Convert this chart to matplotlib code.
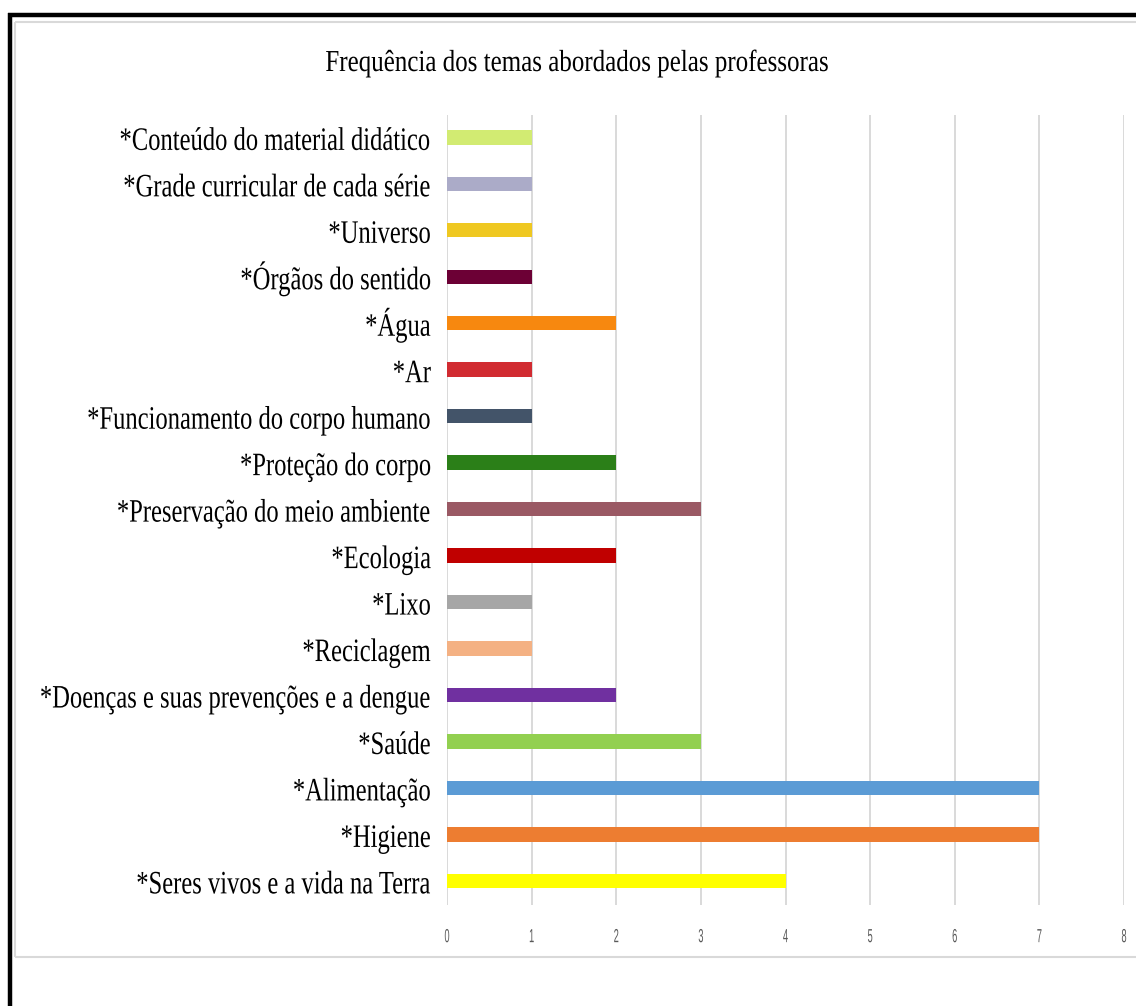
import matplotlib.pyplot as plt
from matplotlib.lines import Line2D
from matplotlib.patheffects import AbstractPathEffect
from matplotlib.transforms import Affine2D, blended_transform_factory

# temas, de cima para baixo
temas = [
    '*Conteúdo do material didático',
    '*Grade curricular de cada série',
    '*Universo',
    '*Órgãos do sentido',
    '*Água',
    '*Ar',
    '*Funcionamento do corpo humano',
    '*Proteção do corpo',
    '*Preservação do meio ambiente',
    '*Ecologia',
    '*Lixo',
    '*Reciclagem',
    '*Doenças e suas prevenções e a dengue',
    '*Saúde',
    '*Alimentação',
    '*Higiene',
    '*Seres vivos e a vida na Terra',
]
frequencia = [1, 1, 1, 1, 2, 1, 1, 2, 3, 2, 1, 1, 2, 3, 7, 7, 4]
cores = [
    '#D2EB72', '#ABABC8', '#EFC821', '#6C0035', '#F7880F', '#D12B31',
    '#435469', '#2B7F18', '#9A5964', '#C00000', '#A6A6A6', '#F4B183',
    '#7030A0', '#92D050', '#5B9BD5', '#ED7D31', '#FFFF00',
]
ticks_x = list(range(0, 9))


class Escalar(AbstractPathEffect):
    '''estica/estreita as letras a partir da linha de base'''

    def __init__(self, sx=1.0, sy=1.0, ancora='center'):
        super().__init__()
        self.sx, self.sy = sx, sy
        self.ancora = ancora

    def draw_path(self, renderer, gc, tpath, affine, rgbFace=None):
        ext = tpath.transformed(affine).get_extents()
        x0 = ext.x1 if self.ancora == 'right' else (ext.x0 + ext.x1) / 2
        y0 = affine.transform((0, 0))[1]
        t = affine + Affine2D().translate(-x0, -y0).scale(self.sx, self.sy).translate(x0, y0)
        renderer.draw_path(gc, tpath, t, rgbFace)


W, H = 1136, 1006
fig = plt.figure(figsize=(W / 100, H / 100), dpi=100)
fig.patch.set_facecolor('white')

# moldura preta externa (aberta à direita e embaixo)
fig.add_artist(Line2D([8 / W, 1.0], [1 - 14.5 / H] * 2, color='black', lw=3.2,
                      transform=fig.transFigure, solid_capstyle='butt'))
fig.add_artist(Line2D([9.5 / W] * 2, [0.0, 1 - 13 / H], color='black', lw=3.2,
                      transform=fig.transFigure, solid_capstyle='butt'))
# borda cinza da área do gráfico
borda = dict(color='#D9D9D9', lw=1.5, transform=fig.transFigure, solid_capstyle='butt')
fig.add_artist(Line2D([15 / W, 1.0], [1 - 22 / H] * 2, **borda))
fig.add_artist(Line2D([15 / W] * 2, [1 - 22 / H, 1 - 957 / H], **borda))
fig.add_artist(Line2D([15 / W, 1.0], [1 - 957 / H] * 2, **borda))

ax = fig.add_axes([447 / W, 1 - 905 / H, (1124 - 447) / W, (905 - 115) / H])
pos = list(range(len(temas)))
ax.barh(pos, frequencia, height=0.31, color=cores, zorder=3)

ax.set_xlim(0, 8)
ax.set_ylim(len(temas) - 0.48, -0.48)
ax.set_xticks(ticks_x)
ax.set_xticklabels([str(t) for t in ticks_x], family='Liberation Sans',
                   fontsize=7, color='#595959',
                   path_effects=[Escalar(0.95, 1.95)])
ax.set_yticks([])
ax.tick_params(axis='x', length=0, pad=21)
ax.grid(axis='x', color='#D9D9D9', lw=1.4, zorder=0)
for s in ax.spines.values():
    s.set_visible(False)

# rótulos das categorias à esquerda das barras
trans = blended_transform_factory(fig.transFigure, ax.transData)
for p, tema in zip(pos, temas):
    ax.text(431 / W, p + 0.27, tema, transform=trans,
            family='Liberation Serif', fontsize=17.7, color='black',
            ha='right', va='baseline', clip_on=False,
            path_effects=[Escalar(1.0, 1.33, 'right')])

fig.text(577 / W, 1 - 71 / H, 'Frequência dos temas abordados pelas professoras',
         family='Liberation Serif', fontsize=18, ha='center', va='baseline',
         path_effects=[Escalar(1.0, 1.22)])

fig.savefig('out.png', dpi=100)
